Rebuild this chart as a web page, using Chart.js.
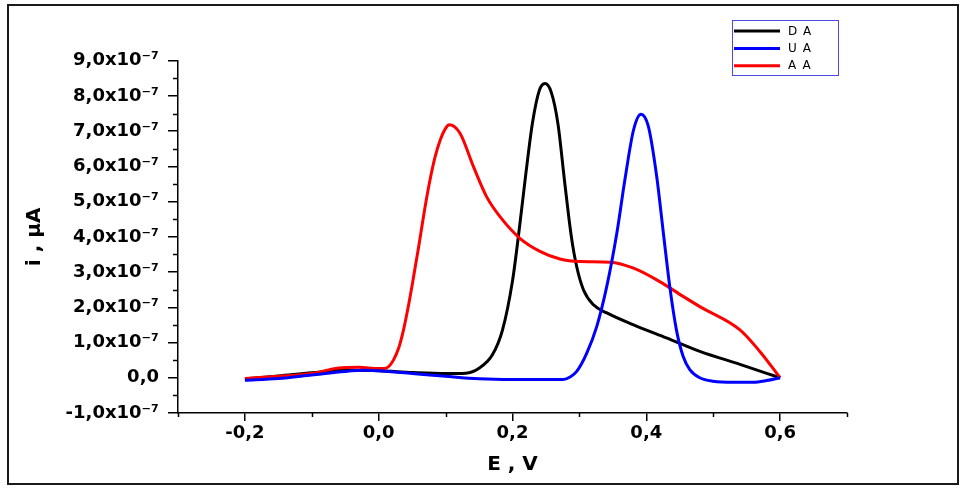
<!DOCTYPE html>
<html>
<head>
<meta charset="utf-8">
<script src="https://cdn.jsdelivr.net/npm/chart.js@4"></script>
<style>
  html, body { margin: 0; padding: 0; background: #fff; }
  #wrap { width: 963px; height: 490px; }
</style>
</head>
<body>
<div id="wrap"><canvas id="c" width="963" height="490"></canvas></div>
<script>
// ---- Data (E in V, current in units of 1e-7) ----
const seriesNames = ['DA', 'UA', 'AA'];

const daE = [-0.2, -0.15, -0.1, -0.05, 0.0, 0.05, 0.1, 0.13, 0.15, 0.17, 0.185, 0.2, 0.21, 0.22, 0.23, 0.24, 0.2486, 0.258, 0.268, 0.278, 0.288, 0.296, 0.306, 0.321, 0.341, 0.381, 0.43, 0.48, 0.54, 0.6];
const daI = [-0.03, 0.05, 0.14, 0.21, 0.20, 0.15, 0.12, 0.13, 0.27, 0.65, 1.35, 2.75, 4.2, 5.8, 7.25, 8.15, 8.35, 8.1, 7.2, 5.55, 4.0, 3.15, 2.5, 2.07, 1.84, 1.5, 1.13, 0.75, 0.38, 0.0];

const uaE = [-0.2, -0.15, -0.1, -0.05, -0.02, 0.0, 0.05, 0.1, 0.15, 0.2, 0.25, 0.276, 0.286, 0.296, 0.311, 0.326, 0.341, 0.356, 0.368, 0.381, 0.392, 0.403, 0.4155, 0.4255, 0.435, 0.445, 0.455, 0.465, 0.48, 0.5, 0.53, 0.56, 0.58, 0.6];
const uaI = [-0.07, -0.02, 0.08, 0.18, 0.21, 0.2, 0.12, 0.04, -0.03, -0.05, -0.05, -0.05, 0.02, 0.18, 0.70, 1.46, 2.60, 4.11, 5.62, 7.04, 7.48, 7.14, 5.72, 4.11, 2.60, 1.36, 0.61, 0.23, 0.0, -0.1, -0.13, -0.13, -0.08, 0.0];

const aaE = [-0.2, -0.15, -0.1, -0.06, -0.03, 0.0, 0.008, 0.015, 0.022, 0.03, 0.037, 0.044, 0.052, 0.06, 0.068, 0.076, 0.084, 0.092, 0.1, 0.1056, 0.1215, 0.1415, 0.161, 0.181, 0.211, 0.241, 0.271, 0.301, 0.346, 0.381, 0.42, 0.455, 0.48, 0.54, 0.57, 0.6];
const aaI = [-0.02, 0.04, 0.12, 0.28, 0.30, 0.26, 0.26, 0.32, 0.5, 0.85, 1.35, 2.0, 2.85, 3.75, 4.7, 5.55, 6.25, 6.75, 7.08, 7.18, 6.94, 6.0, 5.15, 4.58, 3.96, 3.59, 3.37, 3.30, 3.28, 3.11, 2.73, 2.31, 2.02, 1.36, 0.74, 0.0];

const xTickValues = [-0.2, 0.0, 0.2, 0.4, 0.6];
const xTickLabels = ['-0,2', '0,0', '0,2', '0,4', '0,6'];
const xMinorTicks = [-0.3, -0.1, 0.1, 0.3, 0.5, 0.7];

const yTickValues = [-1, 0, 1, 2, 3, 4, 5, 6, 7, 8, 9];
const yTickLabels = ['-1,0x10⁻⁷', '0,0', '1,0x10⁻⁷', '2,0x10⁻⁷', '3,0x10⁻⁷', '4,0x10⁻⁷', '5,0x10⁻⁷', '6,0x10⁻⁷', '7,0x10⁻⁷', '8,0x10⁻⁷', '9,0x10⁻⁷'];
const yMinorTicks = [-0.5, 0.5, 1.5, 2.5, 3.5, 4.5, 5.5, 6.5, 7.5, 8.5];

const toPts = (xs, ys) => xs.map((x, i) => ({ x: x, y: ys[i] }));

const PAD_L = 10, PAD_B = 8;
const AREA_LEFT = 178, AREA_BOTTOM = 413;

const extras = {
  id: 'extras',
  beforeDraw(chart) {
    const ctx = chart.ctx;
    ctx.save();
    ctx.fillStyle = '#fff';
    ctx.fillRect(0, 0, chart.width, chart.height);
    ctx.restore();
  },
  afterDraw(chart) {
    const ctx = chart.ctx;
    const xs = chart.scales.x, ys = chart.scales.y;
    const a = chart.chartArea;
    ctx.save();
    // minor ticks
    ctx.strokeStyle = '#000';
    ctx.lineWidth = 1.5;
    xMinorTicks.forEach(v => {
      const px = Math.round(xs.getPixelForValue(v)) + 0.5;
      ctx.beginPath(); ctx.moveTo(px, a.bottom); ctx.lineTo(px, a.bottom + 4); ctx.stroke();
    });
    yMinorTicks.forEach(v => {
      const py = Math.round(ys.getPixelForValue(v)) + 0.5;
      ctx.beginPath(); ctx.moveTo(a.left, py); ctx.lineTo(a.left - 5, py); ctx.stroke();
    });
    // legend
    const lx = 732, ly = 20, lw = 106, lh = 55;
    ctx.strokeStyle = '#4a4ae0';
    ctx.lineWidth = 1;
    ctx.strokeRect(lx + 0.5, ly + 0.5, lw, lh);
    chart.data.datasets.forEach((ds, i) => {
      const y = 31 + i * 17.4;
      ctx.strokeStyle = ds.borderColor;
      ctx.lineWidth = 3;
      ctx.beginPath(); ctx.moveTo(734, y); ctx.lineTo(780, y); ctx.stroke();
      ctx.fillStyle = '#000';
      ctx.font = '12px "DejaVu Sans"';
      ctx.textBaseline = 'middle';
      ctx.textAlign = 'left';
      try { ctx.letterSpacing = '6px'; } catch (e) {}
      ctx.fillText(ds.label, 788, y + 0.5);
      try { ctx.letterSpacing = '0px'; } catch (e) {}
    });
    // outer frame
    ctx.strokeStyle = '#1a1a1a';
    ctx.lineWidth = 2;
    ctx.strokeRect(8, 5, 950, 479);
    ctx.restore();
  }
};

new Chart(document.getElementById('c'), {
  type: 'scatter',
  data: {
    datasets: [
      { label: seriesNames[0], data: toPts(daE, daI), borderColor: '#000000', backgroundColor: '#000000', order: 3 },
      { label: seriesNames[1], data: toPts(uaE, uaI), borderColor: '#0000ff', backgroundColor: '#0000ff', order: 1 },
      { label: seriesNames[2], data: toPts(aaE, aaI), borderColor: '#ff0000', backgroundColor: '#ff0000', order: 2 }
    ]
  },
  options: {
    responsive: false,
    animation: false,
    showLine: true,
    elements: {
      line: { borderWidth: 3, cubicInterpolationMode: 'monotone', fill: false },
      point: { radius: 0, hoverRadius: 0 }
    },
    layout: { padding: { left: PAD_L, right: 116, top: 60.7, bottom: PAD_B } },
    plugins: { legend: { display: false }, tooltip: { enabled: false } },
    scales: {
      x: {
        type: 'linear', position: 'bottom', min: -0.3, max: 0.7,
        afterBuildTicks: s => { s.ticks = xTickValues.map(v => ({ value: v })); },
        afterFit: s => { s.height = 490 - PAD_B - AREA_BOTTOM; },
        ticks: {
          autoSkip: false, maxRotation: 0, padding: 2, color: '#000',
          font: { family: 'DejaVu Sans', weight: 'bold', size: 18 },
          callback: (v, i) => xTickLabels[i]
        },
        grid: { display: true, drawOnChartArea: false, drawTicks: true, tickLength: 8, color: '#000', lineWidth: 1.5 },
        border: { display: true, color: '#000', width: 1.5 },
        title: {
          display: true, text: 'E , V', color: '#000',
          font: { family: 'DejaVu Sans', weight: 'bold', size: 20 },
          padding: { top: 0, bottom: 5 }
        }
      },
      y: {
        type: 'linear', position: 'left', min: -1, max: 9,
        afterBuildTicks: s => { s.ticks = yTickValues.map(v => ({ value: v })); },
        afterFit: s => { s.width = AREA_LEFT - PAD_L; },
        ticks: {
          autoSkip: false, padding: 9, color: '#000',
          font: { family: 'DejaVu Sans', weight: 'bold', size: 18 },
          callback: (v, i) => yTickLabels[i]
        },
        grid: { display: true, drawOnChartArea: false, drawTicks: true, tickLength: 10, color: '#000', lineWidth: 1.5 },
        border: { display: true, color: '#000', width: 1.5 },
        title: {
          display: true, text: 'i , µA', color: '#000',
          font: { family: 'DejaVu Sans', weight: 'bold', size: 20 },
          padding: { top: 13, bottom: 0 }
        }
      }
    }
  },
  plugins: [extras]
});
</script>
</body>
</html>
